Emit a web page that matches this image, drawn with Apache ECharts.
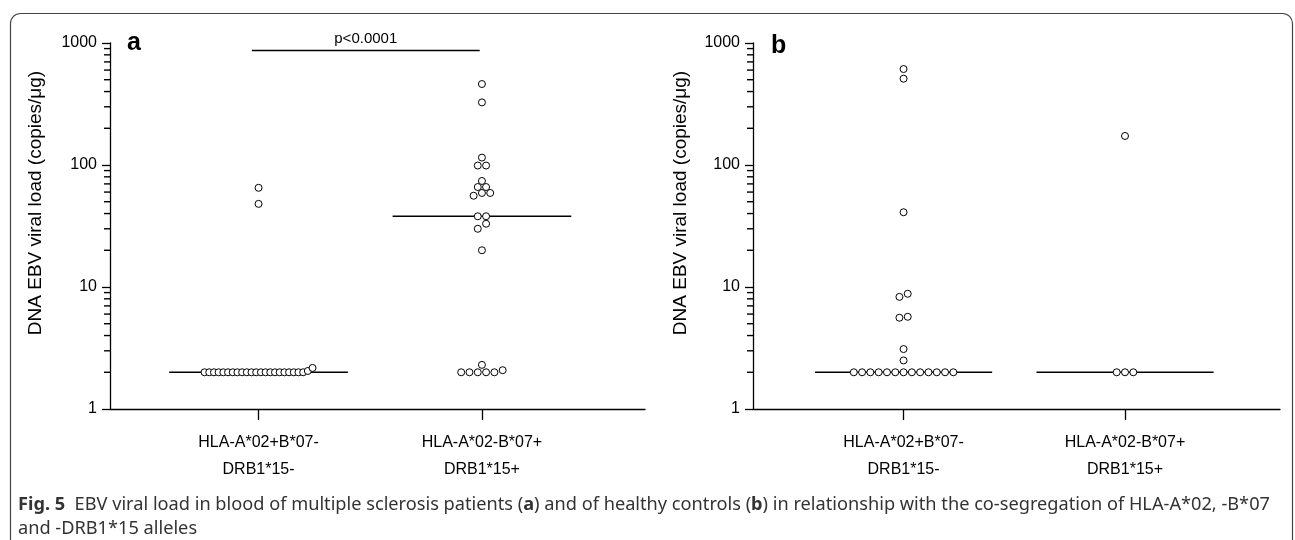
<!DOCTYPE html>
<html>
<head>
<meta charset="utf-8">
<script src="https://cdn.jsdelivr.net/npm/echarts@6/dist/echarts.min.js"></script>
<style>
  html, body { margin: 0; padding: 0; background: #fff; }
  #chart { width: 1295px; height: 540px; }
</style>
</head>
<body>
<div id="chart"></div>
<script>
const groupLabels = ['HLA-A*02+B*07-\nDRB1*15-', 'HLA-A*02-B*07+\nDRB1*15+'];
const yMajor = [1, 10, 100, 1000];
const yTitle = 'DNA EBV viral load (copies/μg)';

// panel a: multiple sclerosis patients
const msNeg = [2, 2, 2, 2, 2, 2, 2, 2, 2, 2, 2, 2, 2, 2, 2, 2, 2, 2, 2, 2, 2, 2, 2.05, 2.17, 48, 65];
const msPos = [2, 2, 2, 2, 2, 2.08, 2.3, 20, 30, 33, 38, 38, 56, 59, 59, 66, 66, 74, 99, 99, 115, 326, 461];
// panel b: healthy controls
const hcNeg = [2, 2, 2, 2, 2, 2, 2, 2, 2, 2, 2, 2, 2, 2.5, 3.1, 5.6, 5.7, 8.3, 8.8, 41, 510, 612];
const hcPos = [2, 2, 2, 173];

const pText = 'p<0.0001';
const pLevel = 880;

const FONT = 'Liberation Sans, Arial, sans-serif';
const lg = Math.log10;
const chart = echarts.init(document.getElementById('chart'));

// y axis works on log10 values; minor ticks at 2..9 of every decade
const yMinor = [];
for (let d = 1; d < 1000; d *= 10) {
  for (let k = 2; k < 10; k++) yMinor.push(lg(k * d));
}

function median(arr) {
  const s = [...arr].sort((a, b) => a - b);
  const m = Math.floor(s.length / 2);
  return s.length % 2 ? s[m] : (s[m - 1] + s[m]) / 2;
}

function xAxisOpt(gridIndex, min, max) {
  return {
    type: 'value', gridIndex, min, max,
    splitLine: { show: false },
    axisLine: { lineStyle: { color: '#000', width: 1.3 } },
    axisTick: { customValues: [1, 2], length: 11, lineStyle: { color: '#000', width: 1.3 } },
    axisLabel: {
      customValues: [1, 2], margin: 20, color: '#000', fontSize: 16, lineHeight: 27,
      fontFamily: FONT, formatter: v => groupLabels[Math.round(v) - 1]
    }
  };
}

function yAxisOpt(gridIndex) {
  return {
    type: 'value', gridIndex, min: 0, max: 3,
    splitLine: { show: false },
    axisLine: { show: true, lineStyle: { color: '#000', width: 1.3 } },
    axisTick: { customValues: yMajor.map(lg), length: 8, lineStyle: { color: '#000', width: 1.3 } },
    axisLabel: {
      customValues: yMajor.map(lg), margin: 13, color: '#000', fontSize: 16, fontFamily: FONT,
      formatter: v => String(Math.round(Math.pow(10, v)))
    }
  };
}

// short minor ticks left of the y axis, placed through the axis scale
function minorTicks(xIdx, yIdx, xMin) {
  return {
    type: 'scatter', xAxisIndex: xIdx, yAxisIndex: yIdx, clip: false, silent: true, z: 2,
    symbol: 'rect', symbolSize: [6, 1.4], symbolOffset: [-3, 0],
    itemStyle: { color: '#000', opacity: 1 },
    data: yMinor.map(v => [xMin, v])
  };
}

function medianLine(xIdx, yIdx, group, vals) {
  const m = lg(median(vals));
  return {
    type: 'line', xAxisIndex: xIdx, yAxisIndex: yIdx, z: 1,
    symbol: 'none', silent: true,
    lineStyle: { color: '#000', width: 1.3 },
    data: [[group - 0.4, m], [group + 0.4, m]]
  };
}

function dots(xIdx, yIdx, data) {
  return {
    type: 'scatter', xAxisIndex: xIdx, yAxisIndex: yIdx, z: 3,
    symbol: 'circle', symbolSize: 7,
    itemStyle: { color: '#fff', borderColor: '#000', borderWidth: 1, opacity: 1 },
    data
  };
}

function yTitleText(x) {
  return {
    type: 'text', x, y: 203, rotation: Math.PI / 2,
    style: { text: yTitle, fontSize: 19, fontFamily: FONT, fill: '#000', align: 'center', verticalAlign: 'middle' }
  };
}

const xRangeA = [0.335, 2.73];
const xRangeB = [0.32, 2.70];

chart.setOption({
  animation: false,
  grid: [
    { left: 110, top: 43, width: 535, height: 366 },
    { left: 753, top: 43, width: 527, height: 366 }
  ],
  xAxis: [xAxisOpt(0, xRangeA[0], xRangeA[1]), xAxisOpt(1, xRangeB[0], xRangeB[1])],
  yAxis: [yAxisOpt(0), yAxisOpt(1)],
  graphic: [
    {
      type: 'rect', shape: { x: 10.5, y: 13.5, width: 1282, height: 600, r: 10 },
      style: { fill: 'none', stroke: '#444', lineWidth: 1.2 }, silent: true
    },
    yTitleText(36),
    yTitleText(681),
    { type: 'text', left: 127, top: 31, style: { text: 'a', fontSize: 25, fontWeight: 'bold', fontFamily: FONT, fill: '#000' } },
    { type: 'text', left: 771, top: 34, style: { text: 'b', fontSize: 25, fontWeight: 'bold', fontFamily: FONT, fill: '#000' } },
    {
      type: 'text', left: 18, top: 493,
      style: {
        text: '{b|Fig. 5}  EBV viral load in blood of multiple sclerosis patients ({b|a}) and of healthy controls ({b|b}) in relationship with the co-segregation of HLA-A*02, -B*07\nand -DRB1*15 alleles',
        fontSize: 18.2, lineHeight: 24, fontFamily: 'Noto Sans, sans-serif', fill: '#333',
        rich: { b: { fontWeight: 'bold', fontSize: 18.2, fontFamily: 'Noto Sans, sans-serif', fill: '#333' } }
      }
    }
  ],
  series: [
    medianLine(0, 0, 1, msNeg),
    medianLine(0, 0, 2, msPos),
    medianLine(1, 1, 1, hcNeg),
    medianLine(1, 1, 2, hcPos),
    {
      type: 'line', xAxisIndex: 0, yAxisIndex: 0, data: [], symbol: 'none',
      markLine: {
        silent: true, symbol: ['none', 'none'],
        lineStyle: { color: '#000', width: 1.3, type: 'solid' },
        label: { show: true, position: 'insideMiddleTop', formatter: pText, color: '#000', fontSize: 15, fontFamily: FONT, distance: 3 },
        data: [[{ coord: [0.97, lg(pLevel)] }, { coord: [1.99, lg(pLevel)] }]]
      }
    },
    minorTicks(0, 0, xRangeA[0]),
    minorTicks(1, 1, xRangeB[0])
  ]
});

// spread points of similar height into centred rows, like a dot plot
function swarm(values, group, xIdx, yIdx) {
  const finder = { xAxisIndex: xIdx, yAxisIndex: yIdx };
  const unit = chart.convertToPixel(finder, [group + 1, 0])[0] - chart.convertToPixel(finder, [group, 0])[0];
  const pts = values.map(v => ({ v, y: chart.convertToPixel(finder, [group, lg(v)])[1] }))
    .sort((a, b) => a.v - b.v);
  const rows = [];
  pts.forEach(p => {
    const row = rows[rows.length - 1];
    if (row && Math.abs(row[0].y - p.y) < 5.5) row.push(p);
    else rows.push([p]);
  });
  const out = [];
  rows.forEach(row => {
    const n = row.length;
    const step = n > 1 ? Math.min(8.3, 108 / (n - 1)) : 0;
    row.forEach((p, i) => {
      const dx = (i - (n - 1) / 2) * step;
      out.push([group + dx / unit, lg(p.v)]);
    });
  });
  return out;
}

chart.setOption({
  series: [
    {}, {}, {}, {}, {}, {}, {},
    dots(0, 0, swarm(msNeg, 1, 0, 0)),
    dots(0, 0, swarm(msPos, 2, 0, 0)),
    dots(1, 1, swarm(hcNeg, 1, 1, 1)),
    dots(1, 1, swarm(hcPos, 2, 1, 1))
  ]
});

window.addEventListener('resize', () => chart.resize());
</script>
</body>
</html>
